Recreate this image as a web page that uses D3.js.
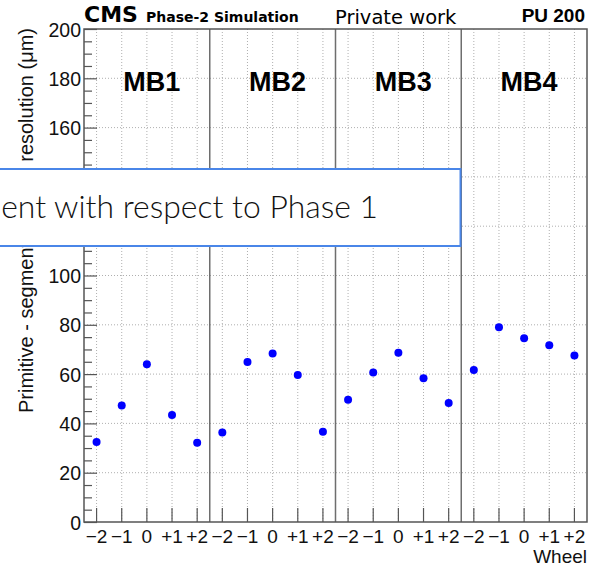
<!DOCTYPE html>
<html>
<head>
<meta charset="utf-8">
<script src="https://cdn.jsdelivr.net/npm/d3@7"></script>
<style>
  html, body { margin: 0; padding: 0; background: #fff; }
  svg { display: block; }
</style>
</head>
<body>
<svg id="chart" width="598" height="568"></svg>
<script>
// ---- data ----
const stations = ["MB1", "MB2", "MB3", "MB4"];
const wheels = ["\u22122", "\u22121", "0", "+1", "+2"];
const valuesMB1 = [32.5, 47.3, 64.0, 43.4, 32.2];
const valuesMB2 = [36.3, 64.9, 68.4, 59.6, 36.6];
const valuesMB3 = [49.6, 60.6, 68.7, 58.3, 48.3];
const valuesMB4 = [61.7, 79.0, 74.5, 71.7, 67.5];
const yMajorTicks = [0, 20, 40, 60, 80, 100, 120, 140, 160, 180, 200];
const yTitle = "Primitive - segment position resolution (\u03bcm)";
const xTitle = "Wheel";
const overlayText = "ent with respect to Phase 1";

const seriesByStation = [valuesMB1, valuesMB2, valuesMB3, valuesMB4];
const points = [];
stations.forEach((s, si) => wheels.forEach((w, wi) =>
  points.push({ key: s + "|" + w, station: s, wheel: w, value: seriesByStation[si][wi] })));

// ---- layout ----
const W = 598, H = 568;
const m = { left: 84, right: 11, top: 29, bottom: 46 };
const svg = d3.select("#chart");
const x = d3.scaleBand().domain(points.map(d => d.key)).range([m.left, W - m.right]).padding(0);
const y = d3.scaleLinear().domain([0, 200]).range([H - m.bottom, m.top]);
const cx = k => x(k) + x.bandwidth() / 2;
const AR = "'Liberation Sans', Arial, Helvetica, sans-serif";
const DJ = "'DejaVu Sans', sans-serif";

svg.append("rect").attr("width", W).attr("height", H).attr("fill", "#fff");

// grid
const grid = svg.append("g").attr("stroke", "#9a9a9a").attr("stroke-width", 0.8).attr("stroke-dasharray", "1,2");
grid.selectAll("line.v").data(points).join("line").attr("class", "v")
  .attr("x1", d => cx(d.key)).attr("x2", d => cx(d.key))
  .attr("y1", y(200)).attr("y2", y(0));
grid.selectAll("line.h").data(yMajorTicks.filter(t => t > 0 && t < 200)).join("line").attr("class", "h")
  .attr("x1", x.range()[0]).attr("x2", x.range()[1])
  .attr("y1", d => y(d)).attr("y2", d => y(d));

// station separators
const sepKeys = stations.slice(1).map(s => s + "|" + wheels[0]);
svg.append("g").selectAll("line").data(sepKeys).join("line")
  .attr("x1", d => x(d)).attr("x2", d => x(d))
  .attr("y1", y(200)).attr("y2", y(0))
  .attr("stroke", "#6e6e6e").attr("stroke-width", 1.5);

// y axis major
const yAx = svg.append("g").attr("transform", `translate(${m.left},0)`)
  .call(d3.axisLeft(y).tickValues(yMajorTicks).tickSize(-13).tickPadding(3).tickFormat(d3.format("d")));
yAx.select(".domain").remove();
yAx.selectAll("line").attr("stroke", "#555").attr("stroke-width", 1.2);
yAx.selectAll("text").attr("font-family", AR).attr("font-size", 19.5).attr("fill", "#111").attr("dy", "0.36em");
// y axis minor
const yMinor = d3.range(0, 201, 5).filter(v => v % 20 !== 0);
const yAxm = svg.append("g").attr("transform", `translate(${m.left},0)`)
  .call(d3.axisLeft(y).tickValues(yMinor).tickSize(-8).tickFormat(""));
yAxm.select(".domain").remove();
yAxm.selectAll("line").attr("stroke", "#555").attr("stroke-width", 1.2);

// x axis
const xAx = svg.append("g").attr("transform", `translate(0,${H - m.bottom})`)
  .call(d3.axisBottom(x).tickSize(-14).tickPadding(8).tickFormat(k => k.split("|")[1]));
xAx.select(".domain").remove();
xAx.selectAll("line").attr("stroke", "#555").attr("stroke-width", 1.2);
xAx.selectAll("text").attr("font-family", AR).attr("font-size", 19).attr("fill", "#111");

// frame
svg.append("rect").attr("x", m.left).attr("y", m.top)
  .attr("width", W - m.right - m.left).attr("height", H - m.bottom - m.top)
  .attr("fill", "none").attr("stroke", "#555").attr("stroke-width", 1.5);

// station labels
svg.append("g").selectAll("text").data(stations).join("text")
  .attr("x", s => cx(s + "|0") + 5).attr("y", y(175))
  .attr("text-anchor", "middle").attr("font-family", AR).attr("font-weight", "bold")
  .attr("font-size", 27).attr("fill", "#000").text(s => s);

// points
svg.append("g").selectAll("circle").data(points).join("circle")
  .attr("cx", d => cx(d.key)).attr("cy", d => y(d.value)).attr("r", 4)
  .attr("fill", "#0000ff");

// axis titles
svg.append("text").attr("transform", `translate(33,${m.top - 1}) rotate(-90)`)
  .attr("text-anchor", "end").attr("font-family", AR).attr("font-size", 20).attr("fill", "#111").text(yTitle);
svg.append("text").attr("x", W - m.right).attr("y", 563).attr("text-anchor", "end")
  .attr("font-family", AR).attr("font-size", 19).attr("fill", "#111").text(xTitle);

// header
svg.append("text").attr("x", 84).attr("y", 22).attr("font-family", DJ).attr("font-weight", "bold")
  .attr("font-size", 22).attr("fill", "#000").text("CMS");
svg.append("text").attr("x", 146).attr("y", 22).attr("font-family", DJ).attr("font-weight", "bold")
  .attr("font-size", 14).attr("fill", "#000").text("Phase-2 Simulation");
svg.append("text").attr("x", 335).attr("y", 24).attr("font-family", DJ)
  .attr("font-size", 19.5).attr("fill", "#000").text("Private work");
svg.append("text").attr("x", 585).attr("y", 22).attr("text-anchor", "end").attr("font-family", AR).attr("font-weight", "bold")
  .attr("font-size", 19).attr("fill", "#000").text("PU 200");

// overlay box
svg.append("rect").attr("x", -2).attr("y", 169).attr("width", 462.5).attr("height", 77)
  .attr("fill", "#fff").attr("stroke", "#4a86e8").attr("stroke-width", 2);
const ot = svg.append("text").attr("x", 378).attr("y", 217.5).attr("text-anchor", "end")
  .attr("font-family", "Lato, 'Open Sans', sans-serif").attr("font-weight", 300)
  .attr("font-size", 31).attr("fill", "#111").text(overlayText);
const len = ot.node().getComputedTextLength();
ot.attr("font-size", 31 * 377 / len);
</script>
</body>
</html>
